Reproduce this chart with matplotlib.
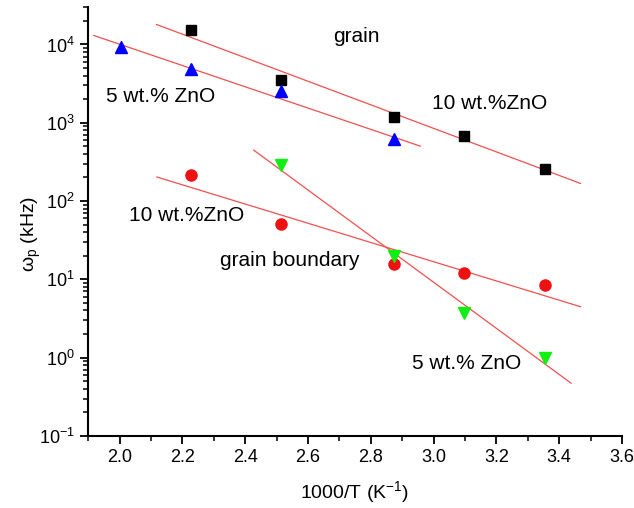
import numpy as np
import matplotlib
matplotlib.use('Agg')
import matplotlib.pyplot as plt
from matplotlib.ticker import LogLocator, MultipleLocator, NullFormatter

plt.rcParams['font.family'] = ['Liberation Sans', 'DejaVu Sans']
plt.rcParams['mathtext.default'] = 'regular'
plt.rcParams['axes.unicode_minus'] = False

# 1000/T values (K^-1)
x_grain10 = [2.227, 2.513, 2.874, 3.096, 3.356]
y_grain10 = [1.55e4, 3500, 1170, 683, 258]

x_grain5 = [2.005, 2.227, 2.513, 2.874]
y_grain5 = [9400, 4800, 2580, 612]

x_gb10 = [2.227, 2.513, 2.874, 3.096, 3.356]
y_gb10 = [213, 51, 15.7, 11.9, 8.5]

x_gb5 = [2.513, 2.874, 3.096, 3.356]
y_gb5 = [288, 20, 3.74, 1.0]

# fitted lines (end points)
fit_grain10_x = [2.118, 3.468]
fit_grain10_y = [10**4.255, 10**2.225]
fit_grain5_x = [1.918, 2.958]
fit_grain5_y = [10**4.115, 10**2.701]
fit_gb10_x = [2.119, 3.468]
fit_gb10_y = [10**2.307, 10**0.65]
fit_gb5_x = [2.427, 3.438]
fit_gb5_y = [10**2.651, 10**-0.327]

fig = plt.figure(figsize=(6.34, 5.08), dpi=100)
ax = fig.add_axes([0.139, 0.142, 0.842, 0.844])

line_kw = dict(color='#f05050', lw=0.9, zorder=1)
ax.plot(fit_grain10_x, fit_grain10_y, **line_kw)
ax.plot(fit_grain5_x, fit_grain5_y, **line_kw)
ax.plot(fit_gb10_x, fit_gb10_y, **line_kw)
ax.plot(fit_gb5_x, fit_gb5_y, **line_kw)

ax.plot(x_grain10, y_grain10, 's', color='black', ms=7, ls='none', zorder=3)
ax.plot(x_grain5, y_grain5, '^', color='#0000ff', ms=9, ls='none', zorder=3)
ax.plot(x_gb10, y_gb10, 'o', color='#ee1111', ms=8, ls='none', zorder=3)
ax.plot(x_gb5, y_gb5, 'v', color='#11ee11', ms=9, ls='none', zorder=3)

ax.set_yscale('log')
ax.set_xlim(1.9, 3.6)
ax.set_ylim(0.1, 3e4)

ax.xaxis.set_major_locator(MultipleLocator(0.2))
ax.xaxis.set_minor_locator(MultipleLocator(0.1))
ax.yaxis.set_major_locator(LogLocator(base=10, numticks=20))
ax.yaxis.set_minor_locator(LogLocator(base=10, subs=np.arange(2, 10), numticks=20))
ax.yaxis.set_minor_formatter(NullFormatter())

for s in ['top', 'right']:
    ax.spines[s].set_visible(False)
for s in ['left', 'bottom']:
    ax.spines[s].set_linewidth(1.5)

ax.tick_params(which='major', direction='out', length=6, width=1.3, labelsize=13)
ax.tick_params(which='minor', direction='out', length=3.5, width=1.1)

ax.set_xlabel('1000/T (K$^{-1}$)', fontsize=14)
ax.set_ylabel(r'$\omega_p$ (kHz)', fontsize=14)
ax.xaxis.set_label_coords(0.5, -0.1)
ax.yaxis.set_label_coords(-0.085, 0.47)

txt_kw = dict(fontsize=15, ha='center', va='center', transform=ax.transData)
ax.text(2.755, 10**4.1, 'grain', **txt_kw)
ax.text(3.178, 10**3.24, '10 wt.%ZnO', **txt_kw)
ax.text(2.13, 10**3.34, '5 wt.% ZnO', **txt_kw)
ax.text(2.213, 10**1.81, '10 wt.%ZnO', **txt_kw)
ax.text(2.543, 10**1.24, 'grain boundary', **txt_kw)
ax.text(3.105, 10**-0.08, '5 wt.% ZnO', **txt_kw)

fig.savefig('out.png', dpi=100)
